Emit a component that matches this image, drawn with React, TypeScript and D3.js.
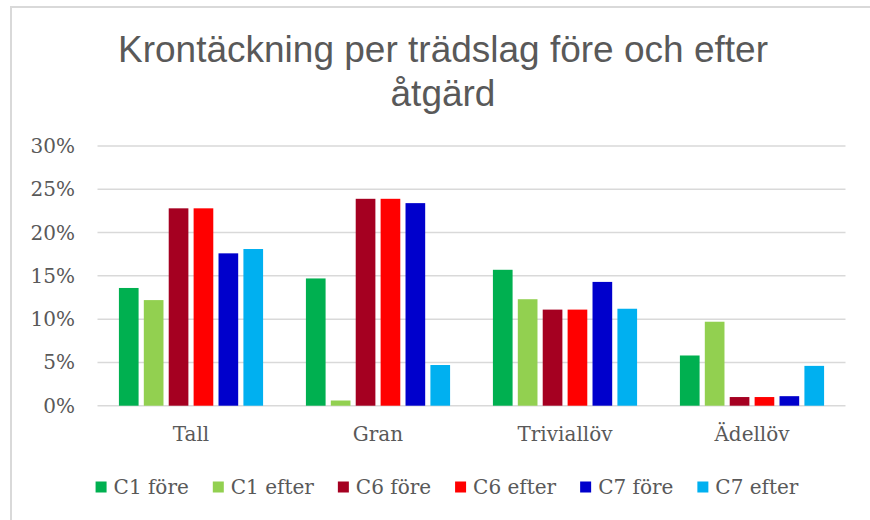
import React from "react";
import * as d3 from "d3";

const categories = ["Tall", "Gran", "Triviallöv", "Ädellöv"];
const seriesNames = ["C1 före", "C1 efter", "C6 före", "C6 efter", "C7 före", "C7 efter"];
const seriesColors = ["#00B050", "#92D050", "#A50021", "#FF0000", "#0000CC", "#00B0F0"];
const c1Fore = [0.136, 0.147, 0.157, 0.058];
const c1Efter = [0.122, 0.006, 0.123, 0.097];
const c6Fore = [0.228, 0.239, 0.111, 0.010];
const c6Efter = [0.228, 0.239, 0.111, 0.010];
const c7Fore = [0.176, 0.234, 0.143, 0.011];
const c7Efter = [0.181, 0.047, 0.112, 0.046];
const seriesValues = [c1Fore, c1Efter, c6Fore, c6Efter, c7Fore, c7Efter];
const yTicks = [0, 0.05, 0.1, 0.15, 0.2, 0.25, 0.3];
const titleLines = ["Krontäckning per trädslag före och efter", "åtgärd"];

const W = 870;
const H = 520;
const plotLeft = 97.5;
const plotRight = 845.5;
const plotTop = 146;
const plotBottom = 405.7;
const labelFont = '"DejaVu Serif", serif';
const textColor = "#595959";

function measure(text: string, font: string): number {
  if (typeof document === "undefined") return text.length * 10;
  const c = document.createElement("canvas");
  const ctx = c.getContext("2d");
  if (!ctx) return text.length * 10;
  ctx.font = font;
  return ctx.measureText(text).width;
}

export default function App() {
  const x0 = d3.scaleBand<string>().domain(categories).range([plotLeft, plotRight]).padding(0);
  const x1 = d3
    .scaleBand<string>()
    .domain(seriesNames)
    .range([0, x0.bandwidth()])
    .paddingInner(0.21)
    .paddingOuter(0.86);
  const y = d3.scaleLinear().domain([0, 0.3]).range([plotBottom, plotTop]);
  const fmt = d3.format(".0%");

  const sq = 11;
  const sqGap = 7;
  const itemGap = 24;
  const widths = seriesNames.map((s) => measure(s, `20px "DejaVu Serif"`));
  const itemW = widths.map((w) => sq + sqGap + w);
  const total = d3.sum(itemW) + itemGap * (seriesNames.length - 1);
  const legendStart = 447 - total / 2;
  const legendX: number[] = [];
  let acc = legendStart;
  itemW.forEach((w) => {
    legendX.push(acc);
    acc += w + itemGap;
  });
  const legendY = 487;

  return (
    <svg width={W} height={H} style={{ position: "absolute", left: 0, top: 0, background: "#fff" }}>
      <rect x={11} y={7} width={W + 10} height={H + 10} fill="#fff" stroke="#d9d9d9" strokeWidth={2} />
      {titleLines.map((t, i) => (
        <text
          key={t}
          x={443}
          y={62 + i * 44}
          textAnchor="middle"
          fontFamily='"Liberation Sans", Arial, sans-serif'
          fontSize={37}
          fill={textColor}
        >
          {t}
        </text>
      ))}
      {yTicks.map((t) => (
        <g key={t}>
          <line x1={plotLeft} x2={plotRight} y1={y(t)} y2={y(t)} stroke="#d9d9d9" strokeWidth={1.5} />
          <text
            x={75}
            y={y(t)}
            dy="0.35em"
            textAnchor="end"
            fontFamily={labelFont}
            fontSize={20}
            fill={textColor}
          >
            {fmt(t)}
          </text>
        </g>
      ))}
      {categories.map((c, ci) => (
        <g key={c}>
          {seriesNames.map((s, si) => {
            const v = seriesValues[si][ci];
            return (
              <rect
                key={s}
                x={(x0(c) ?? 0) + (x1(s) ?? 0)}
                y={y(v)}
                width={x1.bandwidth()}
                height={plotBottom - y(v)}
                fill={seriesColors[si]}
              />
            );
          })}
          <text
            x={(x0(c) ?? 0) + x0.bandwidth() / 2}
            y={441}
            textAnchor="middle"
            fontFamily={labelFont}
            fontSize={20}
            fill={textColor}
          >
            {c}
          </text>
        </g>
      ))}
      {seriesNames.map((s, i) => (
        <g key={s}>
          <rect x={legendX[i]} y={legendY - sq / 2} width={sq} height={sq} fill={seriesColors[i]} />
          <text
            x={legendX[i] + sq + sqGap}
            y={legendY}
            dy="0.35em"
            fontFamily={labelFont}
            fontSize={20}
            fill={textColor}
          >
            {s}
          </text>
        </g>
      ))}
    </svg>
  );
}
